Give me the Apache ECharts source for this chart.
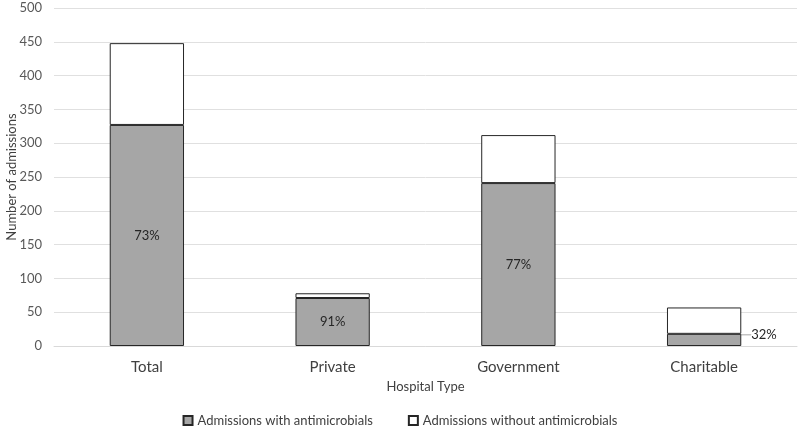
<!DOCTYPE html>
<html>
<head>
<meta charset="utf-8">
<script src="https://cdn.jsdelivr.net/npm/echarts@6/dist/echarts.min.js"></script>
<style>
  html, body { margin: 0; padding: 0; background: #fff; }
  #chart { width: 800px; height: 431px; }
</style>
</head>
<body>
<div id="chart"></div>
<script>
  const categories = ['Total', 'Private', 'Government', 'Charitable'];
  const withAntimicrobials = [327, 71, 241, 18];
  const withoutAntimicrobials = [121, 7, 71, 39];
  const percentLabels = ['73%', '91%', '77%', '32%'];

  const font = 'Lato, "Open Sans", sans-serif';
  const chart = echarts.init(document.getElementById('chart'));

  chart.setOption({
    animation: false,
    textStyle: { fontFamily: font },
    grid: {
      left: 54,
      right: 3,
      top: 8,
      bottom: 85,
      containLabel: false,
      outerBoundsMode: 'none',
    },
    legend: {
      bottom: -1,
      left: 'center',
      itemWidth: 9,
      itemHeight: 9,
      itemGap: 35,
      icon: 'rect',
      textStyle: { fontFamily: font, fontSize: 13, color: '#404040' },
      data: ['Admissions with antimicrobials', 'Admissions without antimicrobials'],
    },
    xAxis: {
      type: 'category',
      data: categories,
      name: 'Hospital Type',
      nameLocation: 'middle',
      nameGap: 34,
      nameTextStyle: { fontSize: 13, color: '#404040' },
      axisLine: { lineStyle: { color: '#d9d9d9' } },
      axisTick: { show: false },
      axisLabel: { fontSize: 15, color: '#404040', margin: 14 },
    },
    yAxis: {
      type: 'value',
      min: 0,
      max: 500,
      interval: 50,
      name: 'Number of admissions',
      nameLocation: 'middle',
      nameGap: 36,
      nameMoveOverlap: false,
      nameTextStyle: { fontSize: 13, color: '#404040' },
      axisLine: { show: false },
      axisTick: { show: false },
      axisLabel: { fontSize: 13, color: '#595959', margin: 12 },
      splitLine: { lineStyle: { color: '#e0e0e0' } },
    },
    series: [
      {
        name: 'Admissions with antimicrobials',
        type: 'bar',
        stack: 'total',
        barWidth: '40%',
        data: withAntimicrobials,
        itemStyle: { color: '#a6a6a6', borderColor: '#262626', borderWidth: 1 },
        label: {
          show: true,
          position: 'inside',
          fontSize: 13,
          color: '#262626',
          formatter: (p) => percentLabels[p.dataIndex],
        },
        labelLine: { show: true, lineStyle: { color: '#a6a6a6', width: 1 } },
        labelLayout: (p) => {
          if (p.dataIndex === 3) {
            return { x: p.rect.x + p.rect.width + 10, y: p.rect.y + 1, align: 'left', verticalAlign: 'middle' };
          }
          return {};
        },
      },
      {
        name: 'Admissions without antimicrobials',
        type: 'bar',
        stack: 'total',
        barWidth: '40%',
        data: withoutAntimicrobials,
        itemStyle: { color: '#ffffff', borderColor: '#262626', borderWidth: 1 },
      },
    ],
  });
</script>
</body>
</html>
